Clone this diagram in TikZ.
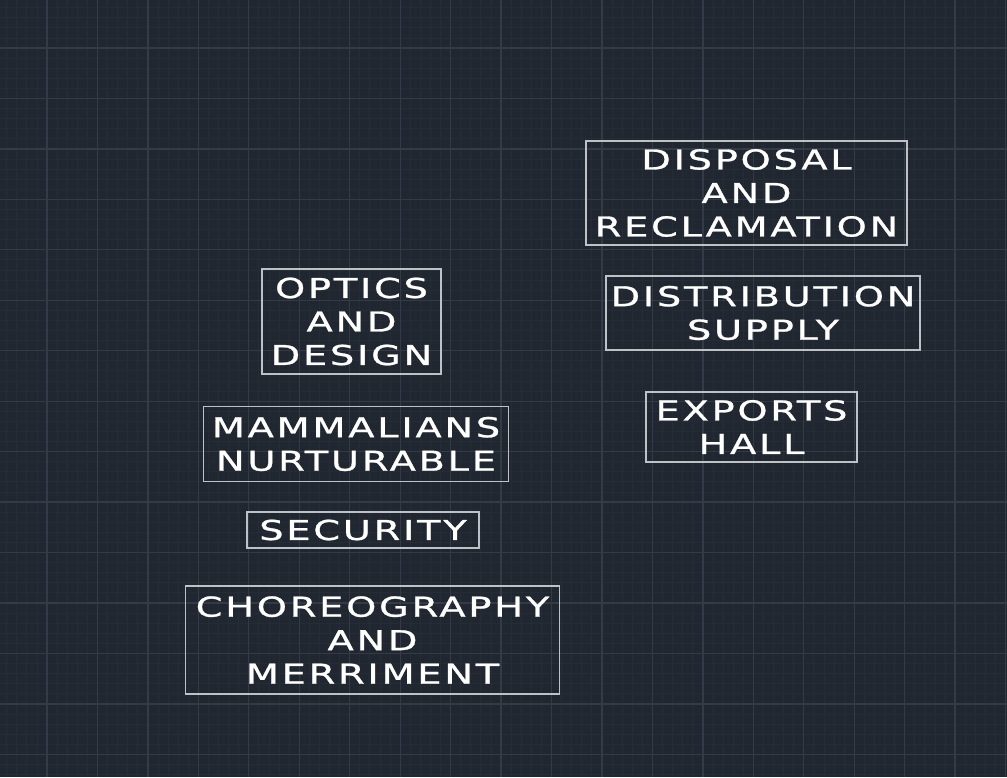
\documentclass[tikz,border=0pt]{standalone}
\usepackage{fontspec}
\setmainfont{DejaVu Sans}[FakeStretch=1.4, LetterSpace=10, FakeBold=1]
\definecolor{bgcol}{HTML}{212730}
\definecolor{minorcol}{HTML}{262C36}
\definecolor{majorcol}{HTML}{343B47}
\definecolor{boxline}{HTML}{BEC2C6}
\tikzset{
  minorline/.style={draw=minorcol, line width=0.8pt},
  majorline/.style={draw=majorcol, line width=1.3pt},
  labelbox/.style={draw=boxline, line width=1.1pt, text=white, align=center,
    font=\fontsize{27.4}{33.5}\selectfont, inner sep=0pt},
}
\begin{document}
\begin{tikzpicture}[x=1pt, y=-1pt]
\useasboundingbox (0,0) rectangle (1007,777);
\fill[bgcol] (0,0) rectangle (1007,777);
% minor grid
\foreach \i in {-4,...,96} {
  \pgfmathsetmacro\xx{47+10.09*\i}
  \draw[minorline] (\xx,0) -- (\xx,777);
}
\foreach \i in {-4,...,73} {
  \pgfmathsetmacro\yy{48+10.09*\i}
  \draw[minorline] (0,\yy) -- (1007,\yy);
}
% major grid
\foreach \i in {0,...,19} {
  \pgfmathsetmacro\xx{47+50.45*\i}
  \draw[majorline] (\xx,0) -- (\xx,777);
}
\foreach \i in {0,...,14} {
  \pgfmathsetmacro\yy{48+50.45*\i}
  \draw[majorline] (0,\yy) -- (1007,\yy);
}
% boxes
\node[labelbox, minimum width=321pt, minimum height=104pt] (disposal) at (746.5,193) {DISPOSAL\\AND\\RECLAMATION};
\node[labelbox, minimum width=314pt, minimum height=74pt] (distribution) at (763,313) {DISTRIBUTION\\SUPPLY};
\node[labelbox, minimum width=211pt, minimum height=70pt] (exports) at (751.5,427) {EXPORTS\\HALL};
\node[labelbox, minimum width=179pt, minimum height=105pt] (optics) at (351.5,321.5) {OPTICS\\AND\\DESIGN};
\node[labelbox, minimum width=305.5pt, minimum height=75pt] (mammalians) at (356,444) {MAMMALIANS\\NURTURABLE};
\node[labelbox, minimum width=232pt, minimum height=36pt] (security) at (363,530) {SECURITY};
\node[labelbox, minimum width=374pt, minimum height=108pt] (choreo) at (372.5,640) {CHOREOGRAPHY\\AND\\MERRIMENT};
\end{tikzpicture}
\end{document}
